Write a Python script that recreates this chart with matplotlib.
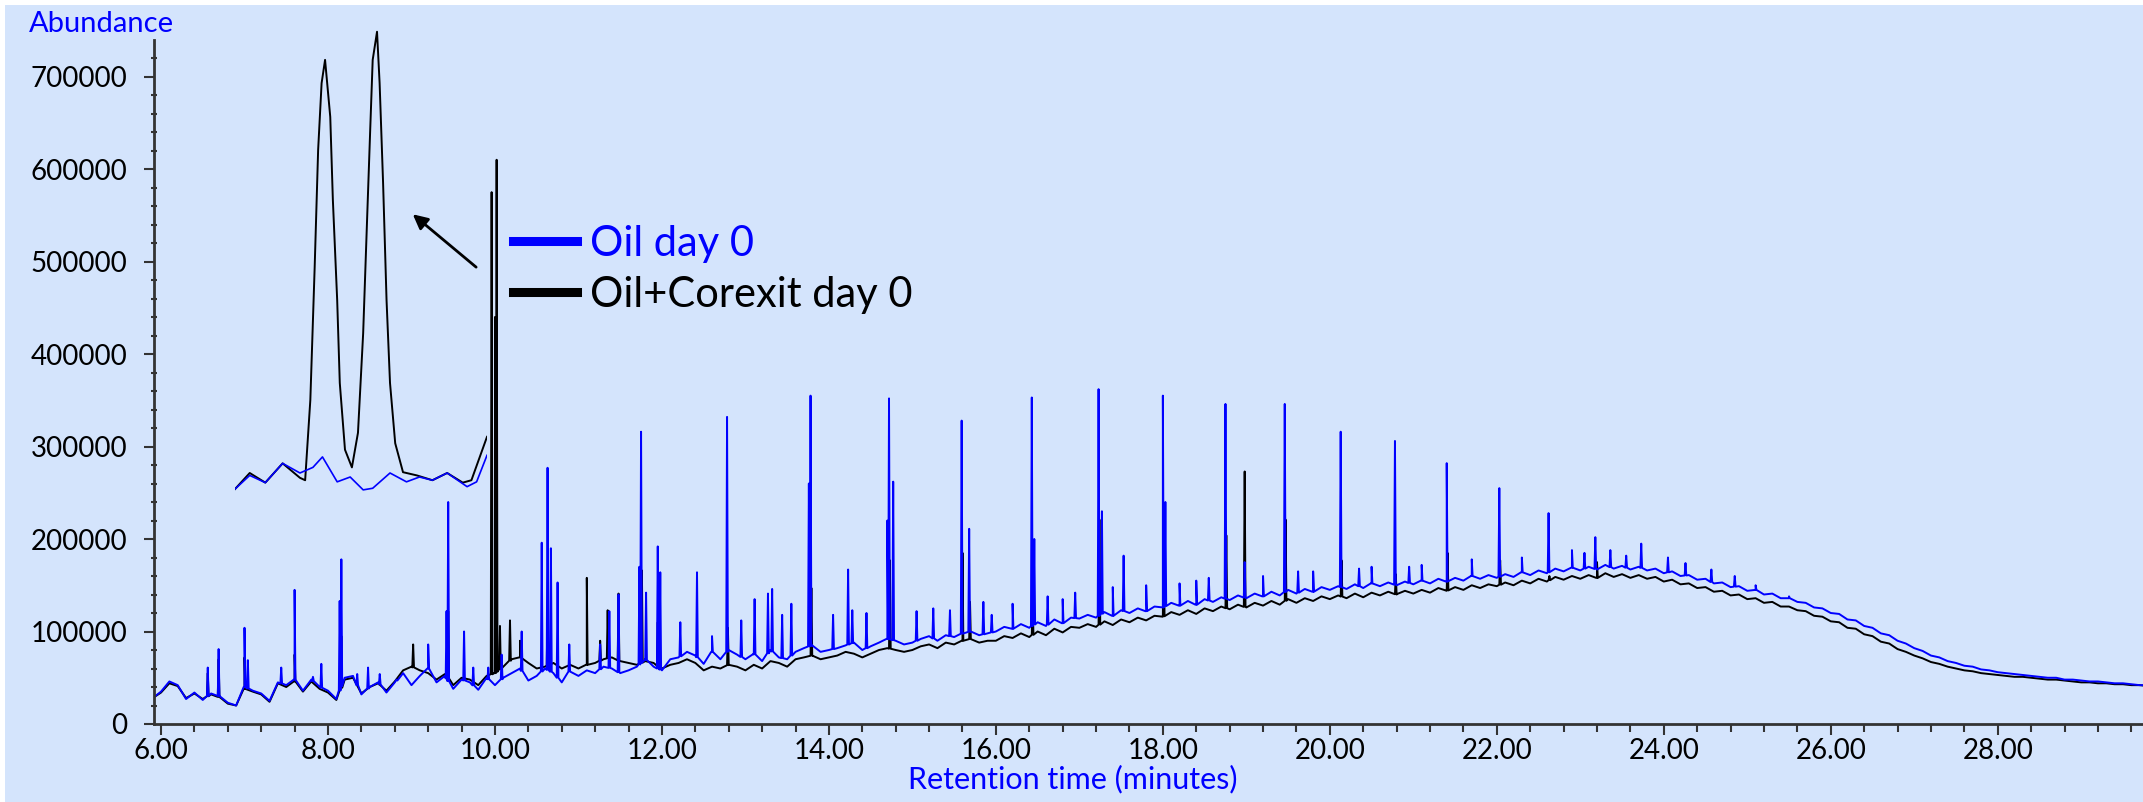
import numpy as np
import matplotlib.pyplot as plt
from matplotlib.lines import Line2D
from matplotlib.patches import Rectangle
from matplotlib.ticker import MultipleLocator, FormatStrFormatter

plt.rcParams['font.family'] = ['Lato', 'DejaVu Sans']

# baseline read every 0.1 min (5.9 ... 29.8), abundance in thousands
rt = np.round(np.arange(5.9, 29.85, 0.1), 2)

oil_base = [28,
    35, 46, 42, 27, 34, 26, 33, 30, 23, 20,
    40, 36, 33, 25, 45, 42, 48, 36, 48, 40,
    36, 27, 50, 52, 32, 40, 45, 34, 45, 55,
    42, 52, 60, 45, 52, 38, 48, 45, 37, 50,
    42, 50, 55, 60, 47, 52, 60, 55, 45, 58,
    52, 58, 55, 62, 60, 55, 58, 62, 70, 62,
    58, 70, 72, 78, 74, 65, 78, 70, 80, 75,
    70, 76, 68, 80, 72, 70, 78, 82, 85, 78,
    80, 82, 85, 88, 80, 84, 88, 92, 90, 86,
    88, 92, 95, 90, 96, 94, 98, 100, 96, 98,
    100, 105, 103, 108, 104, 110, 106, 113, 109, 115,
    114, 118, 115, 121, 117, 123, 120, 125, 122, 127,
    126, 131, 128, 133, 129, 135, 132, 137, 134, 139,
    136, 141, 138, 143, 139, 145, 141, 146, 143, 148,
    145, 149, 146, 151, 147, 152, 149, 153, 150, 154,
    151, 155, 152, 157, 154, 158, 155, 160, 157, 161,
    158, 162, 159, 164, 161, 166, 163, 168, 165, 169,
    166, 170, 167, 172, 168, 171, 167, 170, 166, 168,
    163, 165, 160, 161, 156, 157, 152, 153, 148, 149,
    144, 145, 140, 141, 136, 136, 132, 131, 126, 125,
    120, 119, 113, 112, 106, 104, 98, 96, 90, 87,
    82, 79, 74, 72, 68, 66, 63, 62, 59, 58,
    56, 55, 54, 53, 52, 51, 50, 50, 48, 48,
    47, 46, 46, 45, 44, 44, 43, 42, 42]

corexit_base = [28,
    34, 44, 41, 28, 33, 27, 32, 29, 22, 20,
    38, 35, 32, 24, 44, 40, 46, 35, 46, 38,
    34, 26, 48, 50, 33, 40, 44, 36, 46, 58,
    62, 58, 55, 48, 54, 42, 50, 48, 42, 52,
    55, 62, 70, 72, 66, 60, 62, 66, 60, 64,
    60, 64, 66, 70, 72, 68, 66, 64, 68, 66,
    60, 64, 66, 70, 66, 58, 62, 60, 64, 62,
    58, 64, 60, 68, 66, 62, 70, 72, 74, 70,
    72, 74, 78, 76, 72, 76, 80, 82, 80, 78,
    80, 84, 86, 82, 88, 86, 90, 92, 88, 90,
    90, 95, 93, 98, 94, 100, 96, 103, 99, 105,
    104, 108, 105, 111, 107, 113, 110, 115, 112, 117,
    116, 121, 118, 123, 119, 125, 122, 127, 124, 129,
    126, 131, 128, 133, 129, 135, 131, 136, 133, 138,
    135, 139, 136, 141, 137, 142, 139, 143, 140, 144,
    141, 145, 142, 147, 144, 148, 145, 150, 147, 151,
    149, 153, 150, 155, 152, 157, 154, 159, 156, 160,
    157, 161, 158, 163, 159, 162, 158, 161, 157, 159,
    154, 156, 151, 152, 147, 148, 143, 144, 139, 140,
    135, 136, 131, 132, 127, 127, 123, 122, 117, 116,
    111, 110, 104, 103, 97, 95, 89, 87, 81, 78,
    74, 71, 67, 65, 62, 60, 58, 57, 55, 54,
    53, 52, 51, 51, 50, 49, 48, 48, 47, 46,
    45, 45, 44, 44, 43, 43, 42, 42, 41]

# peaks: retention time (min) and apex (thousands)
oil_peak_rt = [6.56, 6.69, 7.00, 7.04, 7.44, 7.60, 7.82, 7.92, 8.14, 8.16, 8.35, 8.48,
               8.62, 8.83, 9.20, 9.42, 9.44, 9.63, 9.74, 9.92, 10.08, 10.32, 10.56,
               10.63, 10.67, 10.75, 10.89, 11.26, 11.37, 11.48, 11.73, 11.75, 11.81,
               11.95, 11.98, 12.22, 12.42, 12.60, 12.78, 12.95, 13.11, 13.27, 13.32,
               13.44, 13.55, 13.76, 13.78, 14.05, 14.23, 14.28, 14.45, 14.70, 14.72,
               14.77, 15.05, 15.25, 15.45, 15.59, 15.68, 15.85, 15.95, 16.20, 16.43,
               16.46, 16.62, 16.80, 16.95, 17.23, 17.27, 17.40, 17.53, 17.80, 18.00,
               18.03, 18.20, 18.40, 18.55, 18.75, 18.98, 19.20, 19.46, 19.62, 19.80,
               20.13, 20.35, 20.50, 20.78, 20.95, 21.10, 21.40, 21.70, 22.03, 22.30,
               22.62, 22.90, 23.05, 23.18, 23.36, 23.55, 23.73, 24.05, 24.26, 24.57,
               24.85, 25.10, 25.50]
oil_peak_k = [61, 81, 104, 69, 61, 145, 51, 65, 133, 178, 54, 61,
              54, 47, 86, 122, 240, 100, 61, 61, 75, 100, 196,
              277, 190, 153, 86, 86, 122, 140, 170, 316, 142,
              192, 164, 110, 164, 95, 332, 112, 135, 141, 146,
              118, 130, 260, 355, 118, 167, 123, 120, 220, 352,
              262, 122, 125, 123, 328, 211, 132, 118, 130, 353,
              200, 138, 135, 142, 362, 230, 148, 182, 150, 355,
              240, 152, 155, 158, 346, 175, 160, 346, 165, 165,
              316, 168, 170, 306, 170, 172, 282, 178, 255, 180,
              228, 188, 185, 202, 188, 182, 195, 180, 174, 167,
              160, 150, 138]

corexit_peak_rt = [6.56, 6.69, 7.00, 7.60, 8.16, 9.02, 9.44, 9.96, 10.00, 10.02, 10.06,
                   10.18, 10.30, 10.63, 11.10, 11.26, 11.35, 11.48, 11.76, 11.95, 12.79,
                   13.79, 14.73, 15.60, 15.69, 16.44, 17.24, 18.01, 18.76, 18.98, 19.47,
                   20.14, 20.79, 21.41, 22.04, 22.63, 23.20]
corexit_peak_k = [55, 70, 72, 75, 95, 86, 122, 575, 440, 610, 106,
                  112, 90, 126, 158, 90, 123, 141, 166, 110, 104,
                  147, 177, 185, 132, 133, 221, 222, 204, 273, 221,
                  177, 162, 185, 177, 160, 175]

# magnified view of the 10-min doublet
inset_corexit_rt = [9.856, 9.873, 9.891, 9.911, 9.931, 9.937, 9.943, 9.948, 9.952, 9.956,
                    9.960, 9.966, 9.969, 9.974, 9.977, 9.983, 9.991, 9.998, 10.004, 10.008,
                    10.012, 10.015, 10.020, 10.023, 10.027, 10.031, 10.035, 10.041, 10.050,
                    10.066, 10.084, 10.101, 10.119, 10.129, 10.136, 10.147]
inset_corexit_k = [41, 61, 49, 73, 55, 52, 152, 317, 463, 546,
                   575, 504, 401, 276, 173, 90, 68, 111, 235, 360,
                   484, 575, 610, 546, 422, 276, 173, 98, 62,
                   58, 52, 61, 49, 52, 73, 106]
inset_oil_rt = [9.856, 9.873, 9.891, 9.911, 9.931, 9.946, 9.957, 9.974, 9.989, 10.004,
                10.015, 10.035, 10.054, 10.069, 10.084, 10.101, 10.124, 10.135, 10.147]
inset_oil_k = [41, 58, 49, 73, 61, 68, 81, 50, 56, 40,
               42, 61, 50, 56, 52, 61, 44, 50, 83]

x_ticks = np.arange(6, 29, 2)
y_ticks = np.arange(0, 700001, 100000)

BG = '#D4E4FC'
BLUE = '#0000FF'


def trace(base_k, peak_rt, peak_k):
    base = np.array(base_k, dtype=float) * 1000
    t = list(rt)
    y = list(base)
    for p, h in zip(peak_rt, peak_k):
        foot = np.interp(p, rt, base)
        t += [p - 0.01, p, p + 0.01]
        y += [foot, h * 1000, foot]
    order = np.argsort(t, kind='stable')
    return np.array(t)[order], np.array(y)[order]


W, H = 2143, 802
fig = plt.figure(figsize=(W / 100, H / 100), dpi=100, facecolor='white')
fig.patches.append(Rectangle((5 / W, 0), 1, 1 - 5 / H, transform=fig.transFigure,
                             facecolor=BG, edgecolor='none', zorder=-10))

ax = fig.add_axes([154 / W, 1 - 724 / H, 1 - 154 / W, (724 - 40) / H])
ax.set_facecolor('none')

tc, yc = trace(corexit_base, corexit_peak_rt, corexit_peak_k)
to, yo = trace(oil_base, oil_peak_rt, oil_peak_k)
ax.plot(tc, yc, color='black', lw=1.4)
ax.plot(to, yo, color=BLUE, lw=1.4)

ax.set_xlim(5.916, 29.74)
ax.set_ylim(0, 739500)
for s in ['top', 'right']:
    ax.spines[s].set_visible(False)
for s in ['left', 'bottom']:
    ax.spines[s].set_color('#333333')
    ax.spines[s].set_linewidth(2)

ax.set_xticks(x_ticks)
ax.xaxis.set_major_formatter(FormatStrFormatter('%.2f'))
ax.xaxis.set_minor_locator(MultipleLocator(0.4))
ax.set_yticks(y_ticks)
ax.yaxis.set_major_formatter(FormatStrFormatter('%d'))
ax.yaxis.set_minor_locator(MultipleLocator(20000))
ax.tick_params(axis='x', which='major', length=8, width=1.5, pad=2, labelsize=20, color='#333333')
ax.tick_params(axis='x', which='minor', length=6, width=1.5, color='#333333')
ax.tick_params(axis='y', which='major', length=7, width=1.5, pad=12, labelsize=20, color='#333333')
ax.tick_params(axis='y', which='minor', length=5, width=1.5, direction='inout', color='#333333')

ax.set_xlabel('Retention time (minutes)', color=BLUE, fontsize=22)
ax.xaxis.set_label_coords((1073 - 154) / 1989, (724 - 779) / 684)
ax.xaxis.label.set_va('center')
ax.set_ylabel('Abundance', color=BLUE, fontsize=21, rotation=0, ha='left', va='center')
ax.yaxis.set_label_coords((29 - 154) / 1989, (724 - 24) / 684)

handles = [Line2D([], [], color=BLUE, lw=6.5), Line2D([], [], color='black', lw=6.5)]
ax.legend(handles, ['Oil day 0', 'Oil+Corexit day 0'], loc='upper left',
          bbox_to_anchor=((513 - 154) / 1989, (724 - 225) / 684), frameon=False,
          fontsize=30, handlelength=1.54, handletextpad=0.3, labelspacing=0.31,
          borderpad=0, borderaxespad=0, labelcolor='linecolor')

ax.annotate('', xy=(8.99, 553000), xytext=(9.80, 492000),
            arrowprops=dict(arrowstyle='-|>', color='black', lw=2, mutation_scale=22))

ins = fig.add_axes([235 / W, 1 - 500 / H, (487 - 235) / W, (500 - 25) / H])
ins.set_facecolor('none')
ins.axis('off')
ins.plot(np.array(inset_corexit_rt), np.array(inset_corexit_k) * 1000, color='black', lw=1.4)
ins.plot(np.array(inset_oil_rt), np.array(inset_oil_k) * 1000, color=BLUE, lw=1.2)
ins.set_xlim(9.856, 10.147)
ins.set_ylim(27400, 618400)

fig.savefig('out.png', dpi=100, facecolor=fig.get_facecolor())
